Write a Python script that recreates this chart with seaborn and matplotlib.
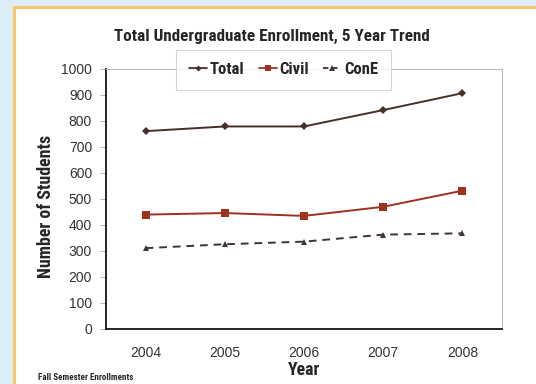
import matplotlib
matplotlib.use("Agg")
import matplotlib.pyplot as plt
from matplotlib.patches import Rectangle
from matplotlib.lines import Line2D
from matplotlib import font_manager as fm
import seaborn as sns
import pandas as pd
import numpy as np

years = ["2004", "2005", "2006", "2007", "2008"]
total = [761, 779, 779, 842, 907]
civil = [440, 446, 435, 470, 532]
cone = [311, 326, 336, 363, 368]
series_names = ["Total", "Civil", "ConE"]
yticks = [0, 100, 200, 300, 400, 500, 600, 700, 800, 900, 1000]

df = pd.DataFrame({
    "Year": years * 3,
    "Students": total + civil + cone,
    "Series": [series_names[0]] * 5 + [series_names[1]] * 5 + [series_names[2]] * 5,
})

sns.set_style("white")
plt.rcParams["font.family"] = ["Liberation Sans", "DejaVu Sans"]

available = {f.name for f in fm.fontManager.ttflist}
cond = "DejaVu Sans"
for cand in ["Roboto Condensed", "Archivo Narrow", "Liberation Sans Narrow", "PT Sans Narrow",
             "Fira Sans Condensed", "IBM Plex Sans Condensed", "Barlow Semi Condensed",
             "Encode Sans Condensed", "Asap Condensed", "Open Sans Condensed"]:
    if cand in available:
        cond = cand
        break
cfam = [cond, "DejaVu Sans"]

fig = plt.figure(figsize=(5.36, 3.84), dpi=100)
W, H = 536, 384
fig.patches.append(Rectangle((0, 0), 1, 1, transform=fig.transFigure, color="#dcedf8", zorder=-10))
fig.patches.append(Rectangle((16 / W, 0), 1, 1 - 8 / H, transform=fig.transFigure, color="white", zorder=-9))
fig.add_artist(Line2D([14.5 / W, 14.5 / W], [0, 1 - 7 / H], transform=fig.transFigure, color="#f8c46c", lw=2.2, zorder=-8))
fig.add_artist(Line2D([14.5 / W, 1], [1 - 7 / H, 1 - 7 / H], transform=fig.transFigure, color="#f8c46c", lw=2.2, zorder=-8))

ax = fig.add_axes([106 / W, 1 - 329 / H, (502 - 106) / W, (329 - 69) / H])
ax.set_facecolor("none")

palette = {"Total": "#45302c", "Civil": "#a0301f", "ConE": "#3e3532"}
markers = {"Total": "D", "Civil": "s", "ConE": "^"}
msize = {"Total": 3.8, "Civil": 6, "ConE": 5}
dashes = {"Total": "", "Civil": "", "ConE": (4, 3)}
sns.lineplot(data=df, x="Year", y="Students", hue="Series", style="Series",
             palette=palette, markers=markers, dashes=dashes, ax=ax, lw=1.4,
             markeredgewidth=0, legend=False)
for line, s in zip(ax.lines, series_names):
    line.set_markersize(msize[s])

ax.set_xlim(-0.5, 4.5)
ax.set_ylim(0, 1000)
ax.set_yticks(yticks)
ax.set_yticklabels([str(v) for v in yticks], fontsize=10, color="#333333")
ax.set_xticks(range(5))
ax.set_xticklabels(years, fontsize=10, color="#333333")
ax.set_xticks(np.arange(-0.5, 5, 1), minor=True)
ax.tick_params(axis="x", which="major", length=0, pad=12)
ax.tick_params(axis="x", which="minor", length=4, color="#bbbbbb", width=0.8)
ax.tick_params(axis="y", length=4, color="#bbbbbb", width=0.8, pad=6, left=True)
for s in ["left", "bottom"]:
    ax.spines[s].set_color("black")
    ax.spines[s].set_linewidth(1.2)
for s in ["top", "right"]:
    ax.spines[s].set_color("#bbbbbb")
    ax.spines[s].set_linewidth(0.8)

ax.set_xlabel("Year", family=cfam, fontweight="bold", fontsize=12.8, labelpad=1)
ax.set_ylabel("Number of Students", family=cfam, fontweight="bold", fontsize=12.9)
ax.yaxis.set_label_coords(-0.128, 0.473)
fig.text(272 / W, 1 - 36 / H, "Total Undergraduate Enrollment, 5 Year Trend",
         family=cfam, fontweight="bold", fontsize=12.35, ha="center", va="center")
fig.text(38 / W, 1 - 378 / H, "Fall Semester Enrollments",
         family=cfam, fontweight="bold", fontsize=6.5, ha="left", va="center")

handles = [Line2D([], [], color=palette[s], marker=markers[s], markersize=msize[s] * 0.8,
                  markeredgewidth=0, linestyle=(0, (3, 2)) if s == "ConE" else "-", lw=1.3) for s in series_names]
leg = ax.legend(handles, series_names, loc="center", bbox_to_anchor=(283.5 / W, 1 - 69.5 / H),
                bbox_transform=fig.transFigure, ncol=3, frameon=True, fancybox=False,
                prop={"family": cfam, "weight": "bold", "size": 12},
                handlelength=1.1, handletextpad=0.15, columnspacing=0.85, borderpad=0.75,
                borderaxespad=0)
leg.get_frame().set_edgecolor("#cccccc")
leg.get_frame().set_linewidth(0.8)

fig.savefig("out.png", dpi=100)
